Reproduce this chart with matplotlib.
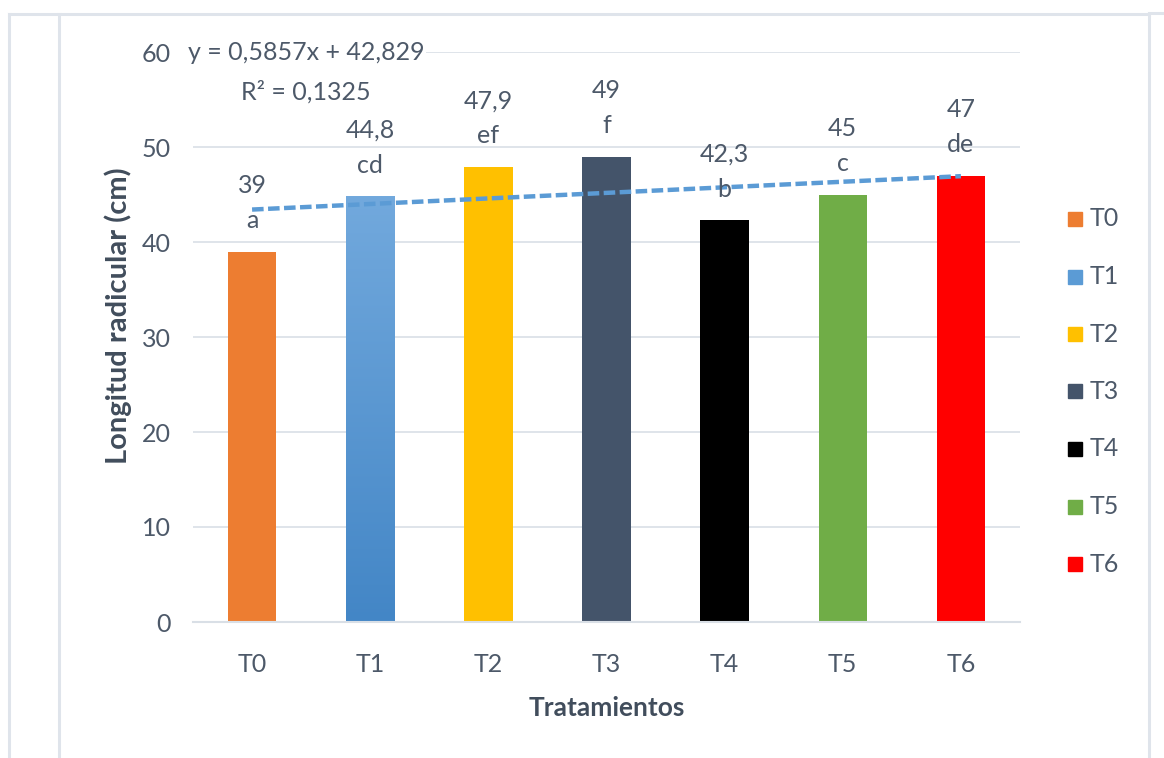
import matplotlib.pyplot as plt
import numpy as np
from matplotlib.lines import Line2D
from matplotlib.patches import Rectangle
from matplotlib.colors import LinearSegmentedColormap

plt.rcParams['font.family'] = ['Lato', 'DejaVu Sans']

# datos
tratamientos = ['T0', 'T1', 'T2', 'T3', 'T4', 'T5', 'T6']
longitud = [39, 44.8, 47.9, 49, 42.3, 45, 47]
etiquetas = ['39', '44,8', '47,9', '49', '42,3', '45', '47']
letras = ['a', 'cd', 'ef', 'f', 'b', 'c', 'de']
colores = ['#ED7D31', '#5B9BD5', '#FFC000', '#44546A', '#000000', '#70AD47', '#FF0000']
pendiente = 0.5857
intercepto = 42.829
r2 = 0.1325

W, H = 1164, 758
color_texto = '#4d5969'
color_titulo = '#414d5c'
color_rejilla = '#d9dfe6'
fs = 18

fig = plt.figure(figsize=(W / 100, H / 100), dpi=100)
fig.patch.set_facecolor('white')

# marco exterior
marco = '#dfe4eb'
lineas_marco = [((9, 1149), (14, 14)), ((9, 9), (14, 770)), ((59, 59), (14, 770)),
                ((1149, 1149), (14, 770)), ((1149, 1164), (13, 13))]
for xs, ys in lineas_marco:
    fig.add_artist(Line2D([v / W for v in xs], [1 - v / H for v in ys],
                          color=marco, lw=2.2, transform=fig.transFigure))

ax = fig.add_axes([193 / W, 1 - 622 / H, (1020 - 193) / W, (622 - 52) / H])
x = np.arange(len(tratamientos))
barras = ax.bar(x, longitud, width=0.41, color=colores, zorder=2)

# degradado de la barra T1
b = barras[1]
grad = np.linspace(0, 1, 256).reshape(-1, 1)
cmap = LinearSegmentedColormap.from_list('azul', ['#4386c6', '#72a9dd'])
im = ax.imshow(grad, cmap=cmap, origin='lower', aspect='auto',
               extent=[b.get_x(), b.get_x() + b.get_width(), 0, b.get_height()],
               zorder=2.1)
im.set_clip_path(b)

# línea de tendencia
xt = np.arange(1, len(tratamientos) + 1)
ax.plot(x, pendiente * xt + intercepto, color='#5B9BD5', lw=3.2,
        dashes=(2.6, 1.0), zorder=3)

# etiquetas de datos
for xi, v, e, l in zip(x, longitud, etiquetas, letras):
    ax.annotate(e, (xi, v), xytext=(0, 42), textcoords='offset points',
                ha='center', va='baseline', fontsize=fs, color=color_texto, zorder=4)
    ax.annotate(l, (xi, v), xytext=(0, 17), textcoords='offset points',
                ha='center', va='baseline', fontsize=fs, color=color_texto, zorder=4)

# ecuación
ax.text(0.137, 1.0, 'y = 0,5857x + 42,829', transform=ax.transAxes,
        ha='center', va='center', fontsize=fs, color=color_texto, zorder=5,
        bbox=dict(facecolor='white', edgecolor='none', pad=1))
ax.text(0.137, 0.93, 'R² = 0,1325', transform=ax.transAxes,
        ha='center', va='center', fontsize=fs, color=color_texto, zorder=5)

ax.set_xlim(-0.5, 6.5)
ax.set_ylim(0, 60)
ax.set_yticks(range(0, 61, 10))
ax.set_xticks(x)
ax.set_xticklabels(tratamientos)
ax.yaxis.grid(True, color=color_rejilla, lw=1.2)
ax.set_axisbelow(True)
for s in ['top', 'right', 'left']:
    ax.spines[s].set_visible(False)
ax.spines['bottom'].set_color(color_rejilla)
ax.spines['bottom'].set_linewidth(1.5)
ax.tick_params(axis='both', length=0, labelsize=fs, colors=color_texto)
ax.tick_params(axis='y', pad=16)
ax.tick_params(axis='x', pad=22)

fig.text(607 / W, 1 - 708 / H, 'Tratamientos', ha='center', va='center',
         fontsize=19, fontweight='bold', color=color_titulo)
fig.text(118 / W, 1 - 316 / H, 'Longitud radicular (cm)', ha='center', va='center',
         rotation=90, fontsize=21, fontweight='bold', color=color_titulo)

# leyenda
for i, (t, c) in enumerate(zip(tratamientos, colores)):
    yc = 219 + 57.5 * i
    fig.add_artist(Rectangle((1068 / W, 1 - (yc + 7) / H), 14 / W, 14 / H,
                             transform=fig.transFigure, color=c))
    fig.text(1090 / W, 1 - yc / H, t, ha='left', va='center',
             fontsize=fs, color=color_texto)

plt.savefig('out.png', dpi=100)
